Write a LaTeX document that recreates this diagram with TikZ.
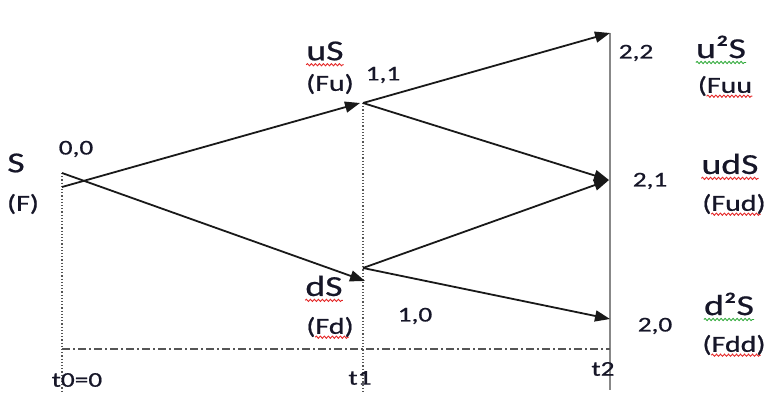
\documentclass[tikz,border=0pt]{standalone}
\usepackage{fontspec}
\setmainfont{Carlito}[FakeBold=0.6]
\usepackage{tikz}
\usetikzlibrary{arrows.meta,decorations.pathmorphing}
\definecolor{cInk}{RGB}{22,22,40}
\definecolor{cLine}{RGB}{25,25,25}
\definecolor{cGuide}{RGB}{85,85,85}
\definecolor{cWavyR}{RGB}{228,40,40}
\definecolor{cWavyG}{RGB}{50,170,60}

\begin{document}
\begin{tikzpicture}[x=1pt,y=-1pt,
  big/.style={inner sep=0pt,xscale=1.3,text=cInk,font=\fontsize{29}{30}\selectfont},
  small/.style={inner sep=0pt,xscale=1.3,text=cInk,font=\fontsize{23}{24}\selectfont},
  num/.style={inner sep=0pt,xscale=1.3,text=cInk,font=\fontsize{21}{22}\selectfont},
  branch/.style={cLine,line width=1.8pt,-{Triangle[length=15pt,width=11pt]}},
  wavy/.style={line width=0.9pt,decorate,decoration={snake,amplitude=1.1pt,segment length=4pt}}]
  \useasboundingbox (0,0) rectangle (769,393);
  % tree points
  \coordinate (p00dn) at (62,173);
  \coordinate (p00up) at (62,187);
  \coordinate (p11in) at (360,103);
  \coordinate (p11) at (363,103);
  \coordinate (p10in) at (365,281);
  \coordinate (p10) at (363,268);
  \coordinate (p22) at (610,33);
  \coordinate (p21) at (609,180);
  \coordinate (p20) at (610,319);
  \coordinate (g0) at (62,393);
  \coordinate (g1) at (363,393);
  \coordinate (g2) at (610,390);
  \coordinate (h0) at (62,349);
  \coordinate (h2) at (610,349);
  % time guides
  \draw[cGuide,dotted,line width=1.2pt] (p00dn) -- (g0);
  \draw[cGuide,dotted,line width=1.2pt] (p11) -- (g1);
  \draw[cGuide!70,line width=1.5pt] (p22) -- (g2);
  \draw[cGuide,line width=1.4pt,dash pattern=on 8pt off 3pt on 2pt off 3pt] (h0) -- (h2);
  % branches
  \draw[branch] (p00up) -- (p11in);
  \draw[branch] (p00dn) -- (p10in);
  \draw[branch] (p11) -- (p22);
  \draw[branch] (p11) -- (p21);
  \draw[branch] (p10) -- (p21);
  \draw[branch] (p10) -- (p20);
  % labels
  \foreach \n/\x/\y/\txt in {S/16/163/S, uS/325/51/uS, dS/324/286/dS,
      uuS/721/47/u²S, udS/730/164/udS, ddS/729/304/d²S}
    \node[big] (\n) at (\x,\y) {\txt};
  \foreach \n/\x/\y/\txt in {F/23/204/{(F)}, Fu/330/84/{(Fu)}, Fd/330/327/{(Fd)},
      Fuu/725/86/{(Fuu}, Fud/734/204/{(Fud)}, Fdd/734/345/{(Fdd)}}
    \node[small] (\n) at (\x,\y) {\txt};
  \foreach \n/\x/\y/\txt in {n00/76/149/{0,0}, n11/383/75/{1,1}, n10/415/316/{1,0},
      n22/636/53/{2,2}, n21/650/181/{2,1}, n20/655/326/{2,0},
      t0/77/380/{t0=0}, t1/360/378/t1, t2/603/369/t2}
    \node[num] (\n) at (\x,\y) {\txt};
  % spell-check underlines
  \foreach \n/\c in {uS/cWavyR, dS/cWavyR, udS/cWavyR, uuS/cWavyG, ddS/cWavyG}
    \draw[wavy,\c] ([yshift=-4pt]\n.south west) -- ([yshift=-4pt]\n.south east);
  \foreach \n/\l/\r in {Fuu/9/0, Fud/9/5, Fd/9/5, Fdd/9/5}
    \draw[wavy,cWavyR] ([xshift=\l pt]\n.south west) -- ([xshift=-\r pt]\n.south east);
\end{tikzpicture}
\end{document}
